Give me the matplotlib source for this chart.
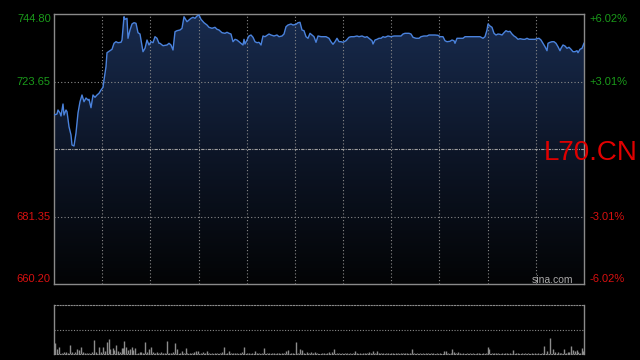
import numpy as np
import matplotlib.pyplot as plt
from matplotlib.colors import LinearSegmentedColormap

# intraday price trace (minutes from open, price)
minutes = [0, 3, 4, 6, 7, 9, 10, 12, 13, 15, 17, 18, 20, 22, 24, 26, 28, 30, 32, 34,
           35, 37, 39, 41, 43, 45, 47, 49, 50, 52, 53, 56, 58, 60, 62, 64, 67, 68, 70, 71,
           73, 74, 76, 78, 80, 82, 84, 86, 87, 89, 91, 93, 95, 97, 99, 101, 103, 105,
           106, 109, 113, 115, 117, 119, 121, 123, 126, 128, 130, 133, 135, 137, 139, 141,
           143, 145, 147, 150, 153, 155, 158, 161, 163, 165, 168, 171, 173, 175, 177, 179,
           181, 183, 185, 187, 189, 190, 191, 193, 195, 197, 199, 201, 203, 205, 207, 209,
           211, 212, 215, 217, 220, 223, 225, 228, 230, 232, 234, 237, 239, 242, 244, 246,
           248, 250, 252, 254, 256, 258, 260, 262, 264, 267, 269, 272, 275, 277, 279, 281,
           283, 285, 287, 289, 292, 295, 297, 300, 303, 305, 308, 311, 313, 315, 318, 319,
           321, 323, 325, 327, 329, 331, 334, 337, 340, 343, 347, 349, 351, 355, 357, 359,
           362, 365, 367, 370, 373, 375, 378, 381, 384, 386, 389, 391, 393, 396, 398, 400,
           401, 403, 406, 409, 411, 415, 419, 423, 426, 429, 431, 433, 434, 436, 438, 440,
           442, 444, 446, 448, 450, 452, 454, 456, 458, 460, 462, 464, 466, 469, 471, 473,
           475, 478, 481, 483, 485, 487, 489, 491, 493, 494, 496, 498, 500, 502, 504, 506,
           507, 509, 511, 513, 515, 517, 519, 521, 523, 524, 526, 528, 530]
prices = [713.15, 713.47, 714.72, 713.78, 712.84, 716.60, 713.15, 714.72, 714.19, 709.49,
          706.89, 703.75, 703.44, 707.51, 713.78, 717.32, 719.42, 717.32, 718.48, 717.85,
          718.07, 715.44, 719.42, 718.70, 719.42, 719.95, 720.99, 721.83, 724.12, 728.29,
          732.67, 733.30, 733.74, 735.62, 736.12, 735.81, 735.93, 736.65, 743.95, 743.14,
          743.45, 737.19, 739.79, 741.67, 742.07, 741.89, 738.94, 738.53, 736.65, 732.99,
          734.05, 736.65, 735.09, 736.12, 735.81, 737.69, 737.19, 735.62,
          735.62, 734.87, 735.09, 735.62, 735.09, 733.52, 739.25, 739.57, 739.79, 740.32,
          743.95, 742.39, 742.92, 743.45, 743.77, 743.45, 744.17, 744.49, 743.14, 742.07,
          741.35, 740.63, 740.32, 740.63, 740.01, 739.79, 738.94, 738.75, 739.07, 738.75,
          738.53, 736.12, 736.87, 736.65, 736.12, 735.62, 735.09, 736.87, 735.40, 736.65,
          737.91, 738.22, 737.50, 736.12, 735.81, 735.93, 735.09, 737.91, 737.69,
          737.91, 738.53, 738.22, 737.91, 738.22, 737.69, 737.91, 738.53, 740.82, 741.35,
          741.67, 741.35, 741.57, 742.07, 742.20, 739.79, 739.57, 737.69, 737.19, 738.75,
          738.22, 737.69, 735.93, 737.91, 737.69, 737.69, 737.69, 737.19, 736.12, 735.31,
          736.12, 737.19, 736.12, 736.12, 735.93, 736.43, 737.50, 737.69, 737.69, 737.91,
          737.69, 737.91, 737.50, 737.69, 737.19, 736.43, 735.40, 736.65,
          736.87, 737.19, 737.19, 737.69, 737.50, 737.91, 737.69, 737.91, 737.91, 737.91,
          738.53, 738.75, 738.75, 738.53, 737.50, 737.19, 737.19, 737.69, 737.91, 737.91,
          738.22, 738.22, 738.22, 738.13, 737.69, 737.69, 736.43, 736.12, 736.25, 736.65,
          736.43, 735.62, 737.19, 737.19, 737.19, 737.69, 737.69, 737.69, 737.69, 737.69,
          737.19, 737.69, 739.79, 741.67, 741.04, 740.63, 738.75, 738.22, 738.53, 738.44,
          738.22, 738.94, 739.57, 739.25, 739.38, 738.53, 737.91, 737.50, 736.87, 737.06,
          736.87, 736.87, 737.19, 736.87, 736.87, 736.87, 737.06, 737.19, 736.65, 735.62,
          734.55, 733.30, 735.62, 735.93, 736.12, 736.12, 735.62, 734.55, 733.30, 734.05,
          735.09, 734.77, 734.05, 734.37, 733.74, 732.99, 732.99, 733.30, 732.67, 733.74,
          734.05, 735.62]

vol_minutes = [1, 3, 5, 8, 10, 12, 14, 16, 18, 21, 23, 25, 27, 29, 31, 33, 35, 38, 40, 42,
               45, 47, 49, 51, 53, 55, 56, 59, 60, 62, 64, 66, 68, 69, 70, 72, 74, 76, 78, 79,
               81, 84, 86, 87, 89, 91, 93, 95, 97, 99, 101, 103, 105, 107, 109, 111, 113, 115,
               117, 119, 121, 123, 126, 128, 130, 132, 133, 136, 138, 140, 142, 144, 147, 149,
               151, 153, 155, 158, 161, 163, 166, 168, 170, 173, 175, 177, 179, 181, 183, 186,
               188, 190, 193, 195, 198, 201, 203, 205, 208, 210, 213, 215, 218, 220, 223, 225,
               228, 230, 232, 234, 237, 239, 242, 244, 246, 248, 250, 253, 255, 257, 259, 261,
               263, 268, 270, 273, 275, 278, 280, 283, 285, 288, 291, 293, 296, 299, 301, 303,
               306, 309, 311, 313, 315, 317, 319, 321, 323, 325, 327, 329, 332, 334, 337, 339,
               342, 344, 347, 349, 351, 353, 356, 358, 360, 363, 366, 369, 372, 374, 377, 379,
               383, 386, 390, 392, 394, 397, 398, 400, 402, 404, 406, 409, 413, 416, 419, 423,
               425, 429, 432, 434, 435, 438, 440, 442, 444, 448, 451, 453, 456, 459, 462, 464,
               468, 471, 474, 478, 481, 484, 488, 490, 493, 496, 499, 501, 504, 506, 507, 510,
               512, 514, 515, 517, 519, 521, 523, 524, 526, 528, 529]
volumes = [1170, 500, 770, 170, 270, 270, 170, 930, 270, 200, 530, 430, 700, 270, 170, 100,
           170, 270, 1430, 270, 700, 270, 770, 330, 1270, 1500, 500, 600, 430, 930, 370, 270,
           600, 600, 1370, 770, 430, 500, 700, 430, 600, 170, 270, 270, 170, 1270, 230, 500,
           770, 270, 170, 200, 100, 270, 100, 170, 1370, 170, 100, 270, 1170, 500, 170, 330,
           100, 600, 170, 100, 170, 270, 330, 330, 100, 270, 170, 330, 100, 100, 100, 170,
           100, 270, 700, 100, 330, 170, 100, 170, 100, 170, 270, 700, 100, 170, 100, 330,
           170, 100, 170, 600, 100, 170, 100, 170, 100, 100, 170, 100, 330, 430, 100, 170,
           1270, 170, 500, 430, 170, 270, 170, 270, 100, 270, 170, 100, 170, 100, 270, 270,
           530, 170, 100, 100, 100, 170, 100, 100, 330, 170, 100, 170, 170, 170, 270, 100,
           330, 100, 330, 100, 100, 100, 170, 100, 100, 100, 100, 100, 100, 170, 100, 100,
           170, 500, 170, 100, 170, 100, 100, 170, 100, 100, 100, 100, 330, 330, 100, 100,
           500, 270, 170, 270, 100, 100, 100, 170, 100, 100, 170, 100, 170, 700, 500, 100,
           170, 170, 100, 100, 100, 170, 100, 430, 100, 170, 100, 100, 100, 100, 100, 100,
           100, 830, 330, 1600, 500, 270, 200, 170, 170, 500, 100, 200, 270, 830, 430, 330,
           430, 200, 170, 600, 330]

prev_close = 702.50
price_lo, price_hi = 660.20, 744.80
left_labels = ["744.80", "723.65", "681.35", "660.20"]
right_labels = ["+6.02%", "+3.01%", "-3.01%", "-6.02%"]
label_levels = [744.80, 723.65, 681.35, 660.20]
session_len = 530
n_cols = 11

green = "#1a9a1a"
red = "#d81010"
grid_c = "#8a8a8a"
spine_c = "#8a8a8a"

plt.rcParams["font.family"] = ["Liberation Sans", "DejaVu Sans"]

fig = plt.figure(figsize=(6.4, 3.6), dpi=100, facecolor="black")
ax = fig.add_axes([54 / 640, 1 - 284 / 360, 530 / 640, 270 / 360], facecolor="black")
vax = fig.add_axes([54 / 640, 1 - 354.3 / 360, 530 / 640, 49.6 / 360], facecolor="black")

t = np.array(minutes)
p = np.array(prices)

# gradient fill under the line
cmap = LinearSegmentedColormap.from_list("fill", ["#030405", "#0d1628", "#182b4e"])
grad = np.linspace(0, 1, 256).reshape(-1, 1)
img = ax.imshow(grad, cmap=cmap, origin="lower", aspect="auto",
                extent=[0, session_len, price_lo, price_hi], zorder=1)
poly = ax.fill_between(t, p, price_lo, facecolor="none", edgecolor="none")
img.set_clip_path(poly.get_paths()[0], transform=ax.transData)

ax.plot(t, p, color="#4a82dc", lw=1.0, zorder=4)

# grid
for k in range(1, n_cols):
    ax.axvline(session_len * k / n_cols, color=grid_c, lw=0.8, ls=(0, (1, 2)), zorder=2)
for lv in [723.65, 681.35]:
    ax.axhline(lv, color=grid_c, lw=0.8, ls=(0, (1, 2)), zorder=2)
ax.axhline(prev_close, color="#a0a0a0", lw=0.8, ls=(0, (3, 1, 1, 1)), zorder=2)

ax.set_xlim(0, session_len)
ax.set_ylim(price_lo, price_hi)
ax.set_xticks([])
ax.set_yticks([])
for s in ax.spines.values():
    s.set_color(spine_c)
    s.set_linewidth(1)

tr = ax.get_yaxis_transform()
for i, (lv, ll, rl) in enumerate(zip(label_levels, left_labels, right_labels)):
    va = "top" if i == 0 else ("bottom" if i == 3 else "center")
    col = green if lv > prev_close else red
    ax.text(-0.006, lv, ll, transform=tr, ha="right", va=va, color=col, fontsize=8)
    ax.text(1.011, lv, rl, transform=tr, ha="left", va=va, color=col, fontsize=8)

fig.text(544 / 640, 1 - 159.5 / 360, "L70.CN", color="#e00000", fontsize=20,
         ha="left", va="baseline")
fig.text(573 / 640, 1 - 283 / 360, "sina.com", color="#aaaaaa", fontsize=7.5,
         ha="right", va="baseline")

# volume panel
vax.vlines(vol_minutes, 0, volumes, color="#8c8c8c", lw=1.0, zorder=3)
vax.set_xlim(0, session_len)
vax.set_ylim(0, 5000)
vax.axhline(2500, color=grid_c, lw=0.8, ls=(0, (1, 1.5)), zorder=2)
vax.set_xticks([])
vax.set_yticks([])
for side in ["left", "right"]:
    vax.spines[side].set_color(spine_c)
    vax.spines[side].set_linewidth(1)
for side in ["top", "bottom"]:
    vax.spines[side].set_color(grid_c)
    vax.spines[side].set_linewidth(0.8)
    vax.spines[side].set_linestyle((0, (1, 1.5)))

fig.savefig("out.png", dpi=100, facecolor="black")
